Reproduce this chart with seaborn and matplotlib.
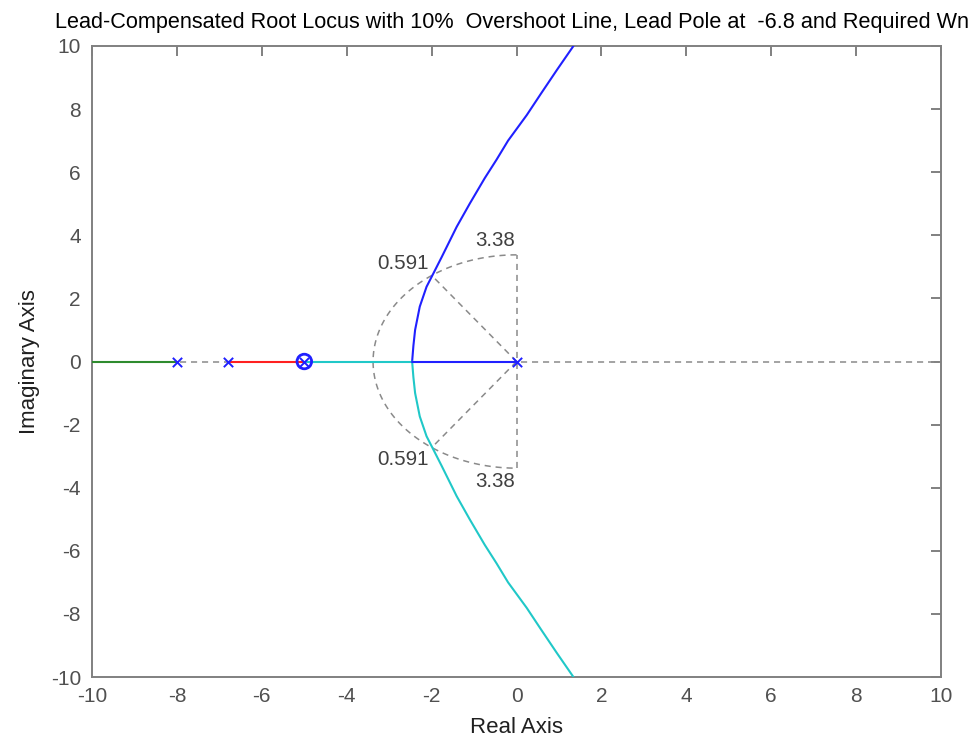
import numpy as np
import pandas as pd
import matplotlib
matplotlib.use("Agg")
import matplotlib.pyplot as plt
import seaborn as sns

# =====================================================
# DATA
# =====================================================
open_loop_poles = [-8.0, -6.8, -5.0, 0.0]
open_loop_zeros = [-5.0]

# upper complex branch, from the breakaway point to the top edge
branch_re = [-2.46, -2.43, -2.39, -2.28, -2.12, -1.96, -1.76, -1.62,
             -1.41, -1.10, -0.75, -0.47, -0.20, 0.24, 0.58, 0.95, 1.34]
branch_im = [0.0, 0.5, 1.0, 1.74, 2.37, 2.79, 3.32, 3.70,
             4.27, 5.01, 5.81, 6.40, 7.00, 7.81, 8.50, 9.24, 10.0]

# real-axis segments of the locus
green_seg = [-10.0, -8.0]
red_seg = [-6.8, -5.0]
cyan_seg = [-5.0, -2.46]
blue_seg = [-2.46, 0.0]

# s-grid values
zeta = 0.591
wn = 3.38

sns.set_style("white")
plt.rcParams["font.family"] = ["Liberation Sans", "DejaVu Sans"]
plt.rcParams["axes.unicode_minus"] = False

fig = plt.figure(figsize=(9.74, 7.49), dpi=100)
ax = fig.add_axes([0.0945, 0.0961, 0.8717, 0.8425])

grid_kw = dict(color="#8a8a8a", lw=1.1, dashes=(4, 3.2))

# real axis dashed line (under the locus)
ax.plot([-10, 10], [0, 0], zorder=1, **grid_kw)

# wn circle (left half) and zeta lines
th = np.linspace(np.pi / 2, 3 * np.pi / 2, 120)
ax.plot(wn * np.cos(th), wn * np.sin(th), zorder=1, **grid_kw)
ax.plot([0, 0], [-wn, wn], zorder=1, **grid_kw)
wd = wn * np.sqrt(1 - zeta ** 2)
ax.plot([0, -zeta * wn], [0, wd], zorder=1, **grid_kw)
ax.plot([0, -zeta * wn], [0, -wd], zorder=1, **grid_kw)

txt_kw = dict(fontsize=14.8, color="#404040", ha="center", va="center")
ax.text(-2.68, 3.12, f"{zeta:.3f}", **txt_kw)
ax.text(-2.68, -3.12, f"{zeta:.3f}", **txt_kw)
ax.text(-0.5, 3.82, f"{wn:.2f}", **txt_kw)
ax.text(-0.5, -3.8, f"{wn:.2f}", **txt_kw)

# locus branches
upper = pd.DataFrame({"re": branch_re, "im": branch_im})
lower = pd.DataFrame({"re": branch_re, "im": [-v for v in branch_im]})

sns.lineplot(data=upper, x="re", y="im", sort=False, estimator=None,
             color="#2020ff", lw=1.5, ax=ax, zorder=3)
sns.lineplot(data=lower, x="re", y="im", sort=False, estimator=None,
             color="#20c8c8", lw=1.5, ax=ax, zorder=3)
sns.lineplot(x=green_seg, y=[0, 0], color="#2e8b2e", lw=1.5, ax=ax, zorder=3)
sns.lineplot(x=red_seg, y=[0, 0], color="#ff2020", lw=1.5, ax=ax, zorder=3)
sns.lineplot(x=cyan_seg, y=[0, 0], color="#20c8c8", lw=1.5, ax=ax, zorder=3)
sns.lineplot(x=blue_seg, y=[0, 0], color="#2020ff", lw=1.5, ax=ax, zorder=3)

# poles and zeros
ax.scatter(open_loop_poles, [0] * len(open_loop_poles), marker="x",
           s=45, color="#2020ff", linewidths=1.4, zorder=5)
ax.scatter(open_loop_zeros, [0] * len(open_loop_zeros), marker="o",
           s=110, facecolors="none", edgecolors="#2020ff", linewidths=2.0, zorder=5)

ax.set_xlim(-10, 10)
ax.set_ylim(-10, 10)
ax.set_xticks(range(-10, 11, 2))
ax.set_yticks(range(-10, 11, 2))

for sp in ax.spines.values():
    sp.set_color("#808080")
    sp.set_linewidth(1.4)
ax.tick_params(direction="in", length=7, width=1.4, color="#808080",
               top=True, right=True, labelsize=15, labelcolor="#505050")
ax.tick_params(axis="x", pad=7)
ax.tick_params(axis="y", pad=8)

ax.set_xlabel("Real Axis", fontsize=16, color="#202020", labelpad=8)
ax.set_ylabel("Imaginary Axis", fontsize=16, color="#202020", labelpad=8)
ax.set_title("Lead-Compensated Root Locus with 10%  Overshoot Line, "
             "Lead Pole at  -6.8 and Required Wn",
             fontsize=15.6, color="black", pad=13, x=0.495)

fig.savefig("out.png", dpi=100)
